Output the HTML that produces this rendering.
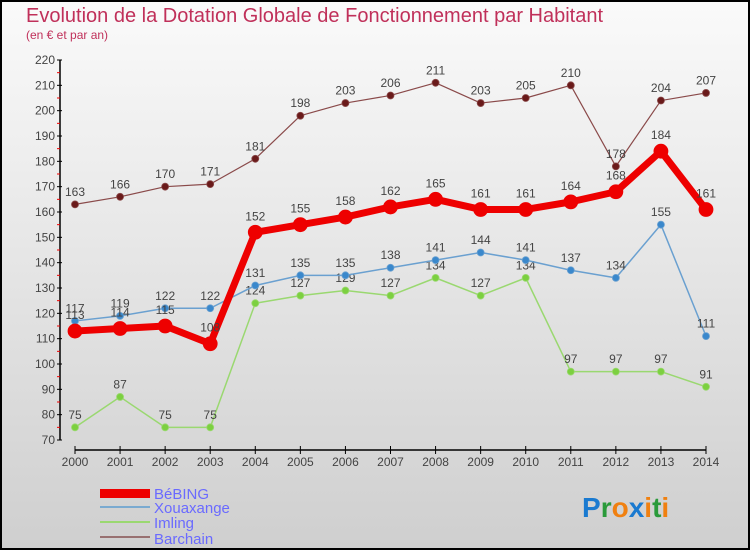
<!DOCTYPE html>
<html><head><meta charset="utf-8"><style>
html,body{margin:0;padding:0}
body{width:750px;height:550px;overflow:hidden;font-family:"Liberation Sans",sans-serif}
#wrap{position:absolute;left:0;top:0;width:746px;height:546px;border:2px solid #000;background:linear-gradient(#fafafa,#cfcfcf)}
</style></head><body>
<div id="wrap"></div>
<svg id="chart" width="750" height="550" style="position:absolute;left:0;top:0">
<text x="26" y="22" font-size="20" fill="#c0305a">Evolution de la Dotation Globale de Fonctionnement par Habitant</text>
<text x="26" y="39" font-size="12" fill="#c0305a">(en € et par an)</text>
<g id="axes"></g><g id="series"></g>
<g>
<rect x="100" y="489" width="50" height="9" fill="#e00"/>
<text x="154" y="499" font-size="15" fill="#6a6aff">BéBING</text>
<rect x="100" y="506" width="50" height="2" fill="#7aaad0"/>
<text x="154" y="513" font-size="15" fill="#6a6aff">Xouaxange</text>
<rect x="100" y="521" width="50" height="2" fill="#9ad870"/>
<text x="154" y="528" font-size="15" fill="#6a6aff">Imling</text>
<rect x="100" y="536" width="50" height="2" fill="#987070"/>
<text x="154" y="544" font-size="15" fill="#6a6aff">Barchain</text>
</g>
<g font-size="28" font-weight="bold">
<text x="582" y="517"><tspan fill="#1a7ad0">P</tspan><tspan fill="#2a9a3a">r</tspan><tspan fill="#f08010">o</tspan><tspan fill="#1a7ad0">x</tspan><tspan fill="#f08010">i</tspan><tspan fill="#2a9a3a">t</tspan><tspan fill="#f08010">i</tspan></text>
</g>
</svg>
<script>
const years=[2000,2001,2002,2003,2004,2005,2006,2007,2008,2009,2010,2011,2012,2013,2014];
const bebing=[113,114,115,108,152,155,158,162,165,161,161,164,168,184,161];
const xouaxange=[117,119,122,122,131,135,135,138,141,144,141,137,134,155,111];
const imling=[75,87,75,75,124,127,129,127,134,127,134,97,97,97,91];
const barchain=[163,166,170,171,181,198,203,206,211,203,205,210,178,204,207];
const yTicks=[70,80,90,100,110,120,130,140,150,160,170,180,190,200,210,220];
const NS="http://www.w3.org/2000/svg";
function x(i){return 75+i*(706-75)/(years.length-1);}
function y(v){return 440-(v-70)*(380/150);}
function mk(tag,attrs,parent){const e=document.createElementNS(NS,tag);for(const k in attrs)e.setAttribute(k,attrs[k]);parent.appendChild(e);return e;}
const axes=document.getElementById('axes');
const ya=mk('line',{x1:60,y1:y(220),x2:60,y2:y(70),stroke:'#000','stroke-width':1.5},axes);


yTicks.forEach((v,k)=>{
 mk('line',{x1:57,y1:y(v),x2:62,y2:y(v),stroke:'#000'},axes);
 if(k<yTicks.length-1) mk('line',{x1:57,y1:y(v+5),x2:60,y2:y(v+5),stroke:'#e00'},axes);
 const t=mk('text',{x:55,y:y(v)+4,'font-size':12,fill:'#444','text-anchor':'end'},axes);t.textContent=v;
 
 
});
const xa=mk('line',{x1:75,y1:450,x2:706,y2:450,stroke:'#000','stroke-width':1.5},axes);


years.forEach((yr,i)=>{
 mk('line',{x1:x(i),y1:446,x2:x(i),y2:454,stroke:'#000'},axes);
 const t=mk('text',{x:x(i),y:466,'font-size':12,fill:'#444','text-anchor':'middle'},axes);t.textContent=yr;
 
 
});
const sg=document.getElementById('series');
function series(vals,name,color,dot,w,r){
 const g=mk('g',{},sg);
 
 
 mk('polyline',{points:vals.map((v,i)=>x(i)+','+y(v)).join(' '),fill:'none',stroke:color,'stroke-width':w,'stroke-linejoin':'round'},g);
 vals.forEach((v,i)=>{
  const c=mk('circle',{cx:x(i),cy:y(v),r:r,fill:dot,stroke:color,'stroke-width':0.8},g);
  
  
  const t=mk('text',{x:x(i),y:y(v)-r-5,'font-size':12,fill:'#444','text-anchor':'middle'},g);t.textContent=v;
  
  
 });
}
series(imling,'imling','#9ad870','#7cd040',1.5,3.5);
series(xouaxange,'xouaxange','#6aa0d0','#3a88cc',1.5,3.5);
series(barchain,'barchain','#8a4a4a','#6a1a1a',1.2,3.5);
series(bebing,'bebing','#e00','#e00',7,7);
</script>
</body></html>
